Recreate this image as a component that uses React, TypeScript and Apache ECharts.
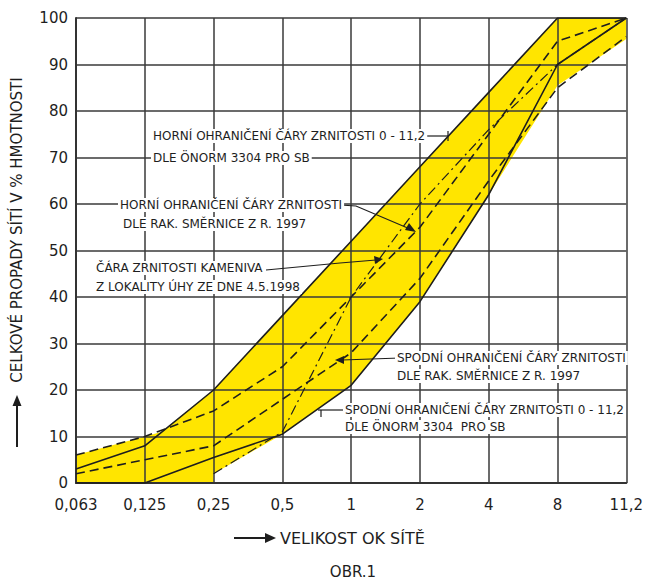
import React, { useEffect, useRef } from "react";
import * as echarts from "echarts";

const xLabels = ["0,063", "0,125", "0,25", "0,5", "1", "2", "4", "8", "11,2"];
const xIdx = [0, 1, 2, 3, 4, 5, 6, 7, 8];
const yTicks = [0, 10, 20, 30, 40, 50, 60, 70, 80, 90, 100];

// ÖNORM 3304 envelope (solid)
const onormUpper = [3, 8, 20, 36, 52, 68, 84, 100, 100];
const onormLower = [0, 0, 5.5, 10.5, 21, 39, 62, 90, 100];
// RAK. směrnice 1997 envelope (dashed)
const rakUpper = [6, 10, 15.5, 25, 40, 55, 75, 95, 100];
const rakLower = [2, 5, 8, 18, 28, 44, 65, 85, 96];
// Čára zrnitosti kameniva (dash-dot)
const kamX = [2, 3, 4, 5, 6, 7, 8];
const kamY = [2, 11, 40, 60, 76, 90, 100];
// Yellow band outline
const bandTopX = [0, 1, 1.25, 2, 3, 4, 5, 6, 7, 8];
const bandTopY = [6, 10, 11, 20, 36, 52, 68, 84, 100, 100];
const bandBotX = [8, 7, 6, 5, 4, 3, 2, 2, 1, 0];
const bandBotY = [95.5, 85.5, 62, 39, 21, 10.5, 2, 0, 0, 0];

const FONT = "DejaVu Sans";
const INK = "#1e1e1e";

const pair = (xs: number[], ys: number[]) => xs.map((x, i) => [x, ys[i]]);

function label(text: string, x: number, y: number) {
  return {
    type: "text",
    z: 20,
    style: {
      text,
      x,
      y,
      fill: INK,
      font: `12px "${FONT}"`,
      verticalAlign: "middle",
      align: "left",
      backgroundColor: "#fff",
      padding: [1, 2, 1, 2],
    },
  };
}
function seg(points: number[][], w = 1.2) {
  return { type: "polyline", z: 20, shape: { points }, style: { stroke: INK, lineWidth: w, fill: null } };
}
function head(points: number[][]) {
  return { type: "polygon", z: 20, shape: { points }, style: { fill: INK } };
}

export default function App() {
  const ref = useRef<HTMLDivElement>(null);
  useEffect(() => {
    const chart = echarts.init(ref.current!, null, { renderer: "svg" });
    const lineBase = (name: string, data: number[][], type: any, width = 1.6) => ({
      name,
      type: "line",
      data,
      z: 6,
      symbol: "none",
      silent: true,
      lineStyle: { color: INK, width, type },
    });
    chart.setOption({
      animation: false,
      backgroundColor: "#fff",
      grid: { left: 76, right: 14, top: 18, bottom: 99 },
      xAxis: {
        type: "value",
        min: 0,
        max: 8,
        interval: 1,
        z: 4,
        axisLine: { show: true, lineStyle: { color: "#333", width: 2 } },
        axisTick: { show: false },
        splitLine: { show: true, lineStyle: { color: "#3a3a3a", width: 1.5 } },
        axisLabel: {
          margin: 14,
          color: INK,
          fontFamily: FONT,
          fontSize: 15,
          formatter: (v: number) => xLabels[xIdx.indexOf(v)] ?? "",
        },
      },
      yAxis: {
        type: "value",
        min: 0,
        max: 100,
        interval: 10,
        z: 4,
        axisLine: { show: true, lineStyle: { color: "#333", width: 2 } },
        axisTick: { show: false },
        splitLine: { show: true, lineStyle: { color: "#3a3a3a", width: 1.5 } },
        axisLabel: {
          margin: 8,
          color: INK,
          fontFamily: FONT,
          fontSize: 15,
          formatter: (v: number) => (yTicks.includes(v) ? String(v) : ""),
        },
      },
      series: [
        {
          type: "custom",
          z: 1,
          silent: true,
          data: [0],
          renderItem: (_p: any, api: any) => {
            const pts = [...pair(bandTopX, bandTopY), ...pair(bandBotX, bandBotY)].map((p) => api.coord(p));
            return { type: "polygon", shape: { points: pts }, style: { fill: "#FFE500", stroke: null } };
          },
        },
        lineBase("ÖNORM horní", pair(xIdx, onormUpper), "solid"),
        lineBase("ÖNORM spodní", pair(xIdx, onormLower), "solid"),
        lineBase("RAK horní", pair(xIdx, rakUpper), [9, 5]),
        lineBase("RAK spodní", pair(xIdx, rakLower), [9, 5]),
        lineBase("Kamenivo", pair(kamX, kamY), [10, 4, 2, 4], 1.2),
      ],
      graphic: [
        // Y axis title
        {
          type: "text",
          x: 17,
          y: 230,
          rotation: Math.PI / 2,
          style: {
            text: "CELKOVÉ PROPADY SÍTÍ V % HMOTNOSTI",
            fill: INK,
            font: `15px "${FONT}"`,
            align: "center",
            verticalAlign: "middle",
          },
        },
        seg([[17, 447], [17, 404]], 2),
        head([[17, 395], [12.5, 406], [21.5, 406]]),
        // X axis title
        {
          type: "text",
          style: {
            text: "VELIKOST OK SÍTĚ",
            x: 280,
            y: 538,
            fill: INK,
            font: `16px "${FONT}"`,
            align: "left",
            verticalAlign: "middle",
          },
        },
        seg([[234, 538], [266, 538]], 2),
        head([[276, 538], [265, 533], [265, 543]]),
        {
          type: "text",
          style: {
            text: "OBR.1",
            x: 353,
            y: 572,
            fill: INK,
            font: `15px "${FONT}"`,
            align: "center",
            verticalAlign: "middle",
          },
        },
        // Annotation A
        seg([[420, 136], [448, 136]]),
        seg([[448, 131], [448, 141]]),
        label("HORNÍ OHRANIČENÍ ČÁRY ZRNITOSTI 0 - 11,2", 151, 136),
        label("DLE ÖNORM 3304 PRO SB", 151, 158),
        // Annotation B
        seg([[340, 205], [356, 206], [410, 229]]),
        head([[416, 232], [405, 230], [409, 223]]),
        label("HORNÍ OHRANIČENÍ ČÁRY ZRNITOSTI", 118, 205),
        label("DLE RAK. SMĚRNICE Z R. 1997", 121, 224),
        // Annotation C
        seg([[266, 270], [340, 263], [376, 260]]),
        head([[383, 259], [374, 256], [375, 264]]),
        label("ČÁRA ZRNITOSTI KAMENIVA", 94, 268),
        label("Z LOKALITY ÚHY ZE DNE 4.5.1998", 94, 287),
        // Annotation D
        seg([[400, 358], [342, 360]]),
        head([[335, 360], [344, 356], [344, 364]]),
        label("SPODNÍ OHRANIČENÍ ČÁRY ZRNITOSTI", 395, 358),
        label("DLE RAK. SMĚRNICE Z R. 1997", 395, 376),
        // Annotation E
        seg([[318, 410], [346, 410]]),
        seg([[321, 410], [321, 417]]),
        label("SPODNÍ OHRANIČENÍ ČÁRY ZRNITOSTI 0 - 11,2", 343, 410),
        label("DLE ÖNORM 3304  PRO SB", 343, 427),
      ],
    });
    return () => chart.dispose();
  }, []);
  return <div ref={ref} style={{ position: "fixed", left: 0, top: 0, width: 646, height: 582 }} />;
}
